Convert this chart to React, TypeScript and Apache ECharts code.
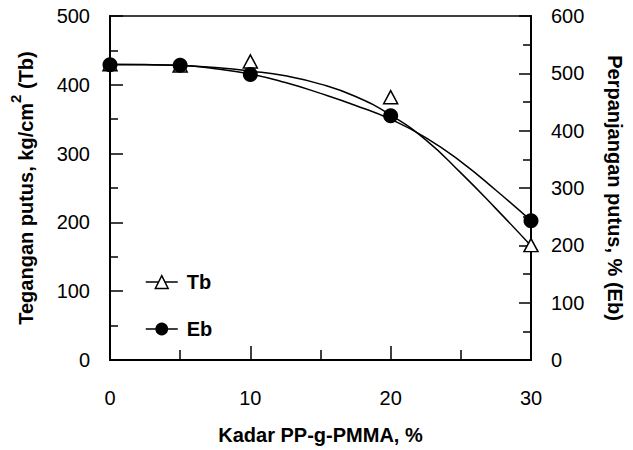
import React, { useEffect, useRef } from "react";
import * as echarts from "echarts";

// Measured points
const xData = [0, 5, 10, 20, 30];
const tbData = [430, 428, 434, 382, 167];
const ebData = [515, 514, 498, 426, 243];

// Fitted trend curves
const fitX = [0, 2.5, 5, 7.5, 10, 12.5, 15, 17.5, 20, 22.5, 25, 27.5, 30];
const tbFit = [430, 429.5, 428, 425, 420, 413, 401, 383, 356, 320, 272, 220, 166];
const ebFit = [515, 515, 514, 508, 499, 484, 465, 444, 420, 388, 346, 296, 243];

const xTicks = [0, 10, 20, 30];

const FONT = "'Liberation Sans', Arial, sans-serif";

export default function App() {
  const ref = useRef<HTMLDivElement>(null);
  useEffect(() => {
    if (!ref.current) return;
    const chart = echarts.init(ref.current, null, { renderer: "svg" });
    const pair = (xs: number[], ys: number[]) => xs.map((x, i) => [x, ys[i]]);
    chart.setOption({
      animation: false,
      backgroundColor: "#fff",
      textStyle: { fontFamily: FONT, color: "#000" },
      grid: {
        left: 110,
        right: 95,
        top: 16,
        bottom: 86,
        show: true,
        borderColor: "#000",
        borderWidth: 1.5,
        backgroundColor: "transparent",
      },
      legend: {
        orient: "vertical",
        left: 140,
        top: 267,
        itemWidth: 32,
        itemHeight: 16,
        itemGap: 27,
        textStyle: { fontFamily: FONT, fontSize: 20, fontWeight: "bold", color: "#000", padding: [0, 0, 0, 4] },
        data: [
          { name: "Tb", itemStyle: { color: "#fff", borderColor: "#000", borderWidth: 1.5 }, lineStyle: { color: "#000", width: 1.5 } },
          { name: "Eb", itemStyle: { color: "#000", borderColor: "#000" }, lineStyle: { color: "#000", width: 1.5 } },
        ],
      },
      xAxis: {
        type: "value",
        min: 0,
        max: 30,
        interval: 10,
        name: "Kadar PP-g-PMMA, %",
        nameLocation: "middle",
        nameGap: 65,
        nameTextStyle: { fontFamily: FONT, fontSize: 20, fontWeight: "bold", color: "#000" },
        axisLine: { lineStyle: { color: "#000", width: 2 } },
        axisTick: { inside: true, length: 14, lineStyle: { color: "#000", width: 1.5 } },
        minorTick: { show: true, splitNumber: 2, length: 10, lineStyle: { color: "#000", width: 1.5 } },
        axisLabel: {
          margin: 28,
          fontSize: 20,
          color: "#000",
          fontFamily: FONT,
          formatter: (v: number) => (xTicks.includes(v) ? String(v) : ""),
        },
        splitLine: { show: false },
      },
      yAxis: [
        {
          type: "value",
          min: 0,
          max: 500,
          interval: 100,
          position: "left",
          name: "{a|Tegangan putus, kg/cm}{s|2}{a| (Tb)}",
          nameLocation: "middle",
          nameGap: 74,
          nameTextStyle: {
            rich: {
              a: { fontFamily: FONT, fontSize: 20, fontWeight: "bold", color: "#000", lineHeight: 28, verticalAlign: "bottom" },
              s: { fontFamily: FONT, fontSize: 15, fontWeight: "bold", color: "#000", lineHeight: 28, verticalAlign: "top", padding: [0, 0, 10, 0] },
            },
          },
          axisLine: { show: true, lineStyle: { color: "#000", width: 2 } },
          axisTick: { show: true, inside: true, length: 13, lineStyle: { color: "#000", width: 1.5 } },
          minorTick: { show: true, splitNumber: 2, length: 8, lineStyle: { color: "#000", width: 1.5 } },
          axisLabel: { margin: 20, fontSize: 20, color: "#000", fontFamily: FONT },
          splitLine: { show: false },
        },
        {
          type: "value",
          min: 0,
          max: 600,
          interval: 100,
          position: "right",
          name: "Perpanjangan putus, % (Eb)",
          nameLocation: "middle",
          nameRotate: -90,
          nameGap: 74,
          nameTextStyle: { fontFamily: FONT, fontSize: 20, fontWeight: "bold", color: "#000" },
          axisLine: { show: true, lineStyle: { color: "#000", width: 2 } },
          axisTick: { show: true, inside: true, length: 12, lineStyle: { color: "#000", width: 1.5 } },
          minorTick: { show: true, splitNumber: 2, length: 8, lineStyle: { color: "#000", width: 1.5 } },
          axisLabel: { margin: 20, fontSize: 20, color: "#000", fontFamily: FONT },
          splitLine: { show: false },
        },
      ],
      series: [
        {
          name: "Tb",
          type: "line",
          yAxisIndex: 0,
          data: pair(fitX, tbFit),
          smooth: 0.5,
          showSymbol: false,
          symbol: "triangle",
          itemStyle: { color: "#fff", borderColor: "#000", borderWidth: 1.5 },
          lineStyle: { color: "#000", width: 1.5 },
          silent: true,
          z: 2,
        },
        {
          name: "Eb",
          type: "line",
          yAxisIndex: 1,
          data: pair(fitX, ebFit),
          smooth: 0.5,
          showSymbol: false,
          symbol: "circle",
          itemStyle: { color: "#000" },
          lineStyle: { color: "#000", width: 1.5 },
          silent: true,
          z: 2,
        },
        {
          name: "Tb data",
          type: "scatter",
          yAxisIndex: 0,
          data: pair(xData, tbData),
          symbol: "triangle",
          symbolSize: [14, 13],
          itemStyle: { color: "#fff", borderColor: "#000", borderWidth: 1.5, opacity: 1 },
          z: 3,
        },
        {
          name: "Eb data",
          type: "scatter",
          yAxisIndex: 1,
          data: pair(xData, ebData),
          symbol: "circle",
          symbolSize: 15,
          itemStyle: { color: "#000", opacity: 1 },
          z: 4,
        },
      ],
    });
    return () => chart.dispose();
  }, []);
  return <div ref={ref} style={{ width: 633, height: 450, position: "absolute", left: 0, top: 0 }} />;
}
